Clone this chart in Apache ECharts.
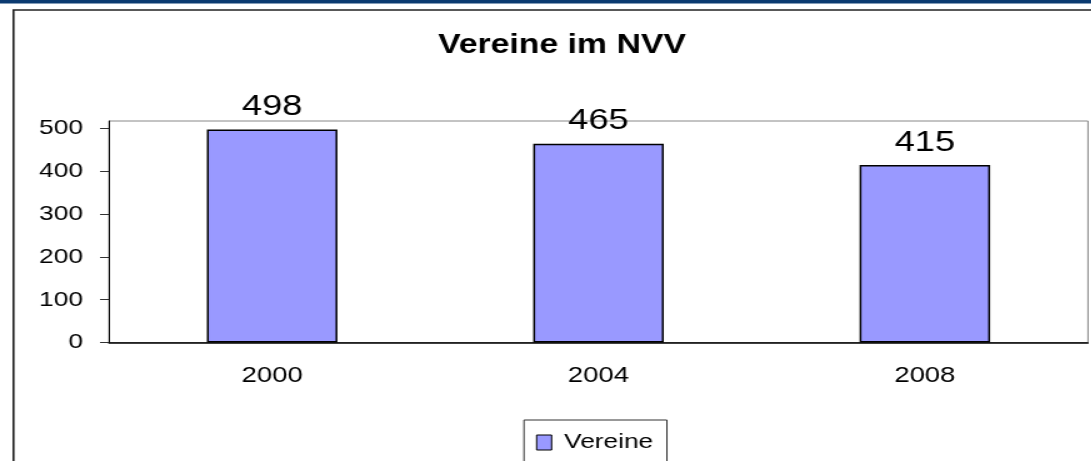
<!DOCTYPE html>
<html>
<head>
<meta charset="utf-8">
<script src="https://cdn.jsdelivr.net/npm/echarts@6/dist/echarts.min.js"></script>
<style>
  html, body { margin: 0; padding: 0; background: #fff; overflow: hidden; }
  /* the original picture is stretched wide, so the chart is drawn narrow and scaled */
  #main { width: 873px; height: 461px; transform: scaleX(1.25); transform-origin: 0 0; }
</style>
</head>
<body>
<div id="main"></div>
<script>
var years = ['2000', '2004', '2008'];
var vereine = [498, 465, 415];
var yTicks = [0, 100, 200, 300, 400, 500];

var SX = 1.25;
var font = "'Liberation Sans', Arial, sans-serif";

var chart = echarts.init(document.getElementById('main'), null, { renderer: 'canvas' });

var option = {
  backgroundColor: '#fff',
  animation: false,
  title: {
    text: 'Vereine im NVV',
    left: 562 / SX,
    top: 32,
    textAlign: 'center',
    padding: 0,
    textStyle: { fontFamily: font, fontSize: 27, fontWeight: 'bold', color: '#000' }
  },
  graphic: [
    // dark blue band at the top
    { type: 'rect', shape: { x: 0, y: 0, width: 873, height: 3.5 }, style: { fill: '#0b3a70' }, z: -1 },
    // outer frame
    { type: 'rect', shape: { x: 13.5 / SX, y: 10, width: 1000, height: 600 }, style: { fill: null, stroke: '#222', lineWidth: 1.6 }, z: -1 }
  ],
  legend: {
    data: ['Vereine'],
    left: 524 / SX,
    top: 420,
    padding: [12, 11, 30, 9.6],
    backgroundColor: '#fff',
    borderColor: '#333',
    borderWidth: 1,
    itemWidth: 12,
    itemHeight: 15,
    icon: 'rect',
    itemStyle: { borderColor: '#000', borderWidth: 1 },
    textStyle: { fontFamily: font, fontSize: 21, color: '#000', padding: [0, 0, 0, 5] }
  },
  grid: {
    left: 109 / SX,
    right: 873 - 1088 / SX,
    top: 121,
    bottom: 118.5,
    show: true,
    borderColor: '#888',
    borderWidth: 1,
    containLabel: false
  },
  xAxis: {
    type: 'category',
    data: years,
    axisLine: { lineStyle: { color: '#000', width: 1.5 } },
    axisTick: { alignWithLabel: false, length: 7, lineStyle: { color: '#333' } },
    axisLabel: { fontFamily: font, fontSize: 22, color: '#000', margin: 22 },
    splitLine: { show: false }
  },
  yAxis: {
    type: 'value',
    min: 0,
    max: 518,
    interval: 100,
    axisLine: { show: true, lineStyle: { color: '#000', width: 1 } },
    axisTick: { show: true, length: 9 / SX, customValues: yTicks, lineStyle: { color: '#333' } },
    axisLabel: { fontFamily: font, fontSize: 21, color: '#000', margin: 26 / SX, customValues: yTicks },
    splitLine: { show: false }
  },
  series: [
    {
      name: 'Vereine',
      type: 'bar',
      data: vereine,
      barWidth: '40%',
      itemStyle: { color: '#9999ff', borderColor: '#000', borderWidth: 1.5 },
      label: {
        show: true,
        position: 'top',
        distance: 8,
        fontFamily: font,
        fontSize: 29,
        color: '#000'
      }
    }
  ]
};

chart.setOption(option);
</script>
</body>
</html>
